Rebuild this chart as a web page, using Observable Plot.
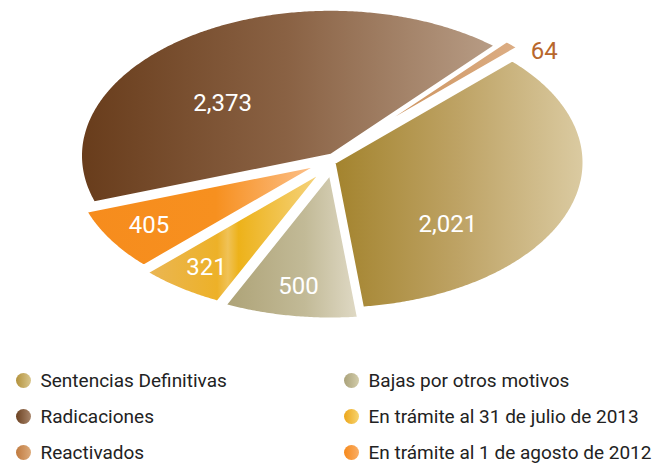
<!DOCTYPE html>
<html><head><meta charset="utf-8">
<script src="https://cdn.jsdelivr.net/npm/d3@7"></script>
<script src="https://cdn.jsdelivr.net/npm/@observablehq/plot@0.6"></script>
<style>body{margin:0;background:#fff;font-family:Roboto,sans-serif}</style>
</head><body><div id="chart"></div>
<script>
// ---- data ----
const categories = ["Radicaciones","Reactivados","Sentencias Definitivas","Bajas por otros motivos","En trámite al 31 de julio de 2013","En trámite al 1 de agosto de 2012"];
const values = [2373, 64, 2021, 500, 321, 405];
const valueLabels = ["2,373", "64", "2,021", "500", "321", "405"];
const legendOrder = ["Sentencias Definitivas","Radicaciones","Reactivados","Bajas por otros motivos","En trámite al 31 de julio de 2013","En trámite al 1 de agosto de 2012"];

// ---- layout / style ----
const W = 659, H = 468, RX = 251, RY = 147, START = 161.1;
const apex = [[330.5,155.3],[340,150],[333,162],[330,172],[324,169],[322,163]];
const labelPlace = [[219.5,0.56],[318.4,1.013],[42.8,0.621],[99.4,0.783],[125.3,0.813],[148.6,0.81]];
const labelColor = ["#fff","#b8672c","#fff","#fff","#fff","#fff"];
const outsideLabel = [false, true, false, false, false, false];
const sliceStops = [
  [[0,"#683c1b"],[0.5,"#8a6244"],[1,"#b89d86"]],
  [[0,"#c8894f"],[1,"#dcae85"]],
  [[0,"#a3832d"],[0.5,"#bea365"],[1,"#dbcba2"]],
  [[0,"#ada276"],[0.6,"#c2ba97"],[1,"#e0dac6"]],
  [[0,"#eab655"],[0.4,"#edb128"],[0.46,"#f0c257"],[0.52,"#edb21a"],[1,"#f6d686"]],
  [[0,"#f68c1d"],[0.55,"#f7901f"],[1,"#fcc494"]]
];
const legendStops = {
  "Sentencias Definitivas": ["#b3923c","#d9c68d"],
  "Radicaciones": ["#6c4222","#a8856a"],
  "Reactivados": ["#c07a3f","#dcaa7a"],
  "Bajas por otros motivos": ["#aaa27a","#d2ccaa"],
  "En trámite al 31 de julio de 2013": ["#eca61a","#f7d470"],
  "En trámite al 1 de agosto de 2012": ["#f6891b","#faae66"]
};

// ---- geometry from data ----
const total = d3.sum(values);
let acc = START;
const slices = [], labels = [];
values.forEach((v, i) => {
  const a0 = acc, a1 = acc + v / total * 360; acc = a1;
  const [cx, cy] = apex[i];
  const n = Math.max(6, Math.ceil((a1 - a0) * 2));
  slices.push({name: categories[i], x: cx, y: cy, fill: `url(#g${i})`});
  for (let k = 0; k <= n; k++) {
    const t = (a0 + (a1 - a0) * k / n) * Math.PI / 180;
    slices.push({name: categories[i], x: cx + RX * Math.cos(t), y: cy + RY * Math.sin(t), fill: `url(#g${i})`});
  }
  slices.push({name: categories[i], x: cx, y: cy, fill: `url(#g${i})`});
  const [la, lf] = labelPlace[i];
  const t = la * Math.PI / 180;
  labels.push({text: valueLabels[i], x: cx + RX * lf * Math.cos(t), y: cy + RY * lf * Math.sin(t), color: labelColor[i], outside: outsideLabel[i]});
});

const legend = legendOrder.map((name, i) => ({
  name, x: i < 3 ? 23 : 351, y: 380 + (i % 3) * 36, fill: `url(#l${i})`
}));

function defs() {
  const g = d3.create("svg:defs");
  sliceStops.forEach((stops, i) => {
    const lg = g.append("linearGradient").attr("id", `g${i}`).attr("x1", 0).attr("x2", 1).attr("y1", 0).attr("y2", 0);
    stops.forEach(([o, c]) => lg.append("stop").attr("offset", o).attr("stop-color", c));
  });
  legendOrder.forEach((name, i) => {
    const [c0, c1] = legendStops[name];
    const lg = g.append("linearGradient").attr("id", `l${i}`).attr("x1", 0).attr("x2", 1).attr("y1", 0).attr("y2", 0);
    lg.append("stop").attr("offset", 0).attr("stop-color", c0);
    lg.append("stop").attr("offset", 1).attr("stop-color", c1);
  });
  return g.node();
}

const chart = Plot.plot({
  width: W, height: H,
  margin: 0,
  x: {domain: [0, W], range: [0, W], axis: null},
  y: {domain: [0, H], range: [0, H], axis: null},
  color: {type: "identity"},
  style: {fontFamily: "Roboto, sans-serif", background: "#fff"},
  marks: [
    defs,
    Plot.line(slices, {x: "x", y: "y", z: "name", fill: "fill", stroke: "white", strokeWidth: 4, strokeLinejoin: "round", curve: "linear"}),
    Plot.text(labels.filter(d => !d.outside), {x: "x", y: "y", text: "text", fill: "color", textAnchor: "middle", fontSize: 24}),
    Plot.text(labels.filter(d => d.outside), {x: "x", y: "y", text: "text", fill: "color", textAnchor: "start", fontSize: 24}),
    Plot.dot(legend, {x: "x", y: "y", r: 7.5, fill: "fill"}),
    Plot.text(legend, {x: d => d.x + 17, y: "y", text: "name", textAnchor: "start", fill: "#222", fontSize: 19})
  ]
});
document.getElementById("chart").append(chart);
</script>
</body></html>
